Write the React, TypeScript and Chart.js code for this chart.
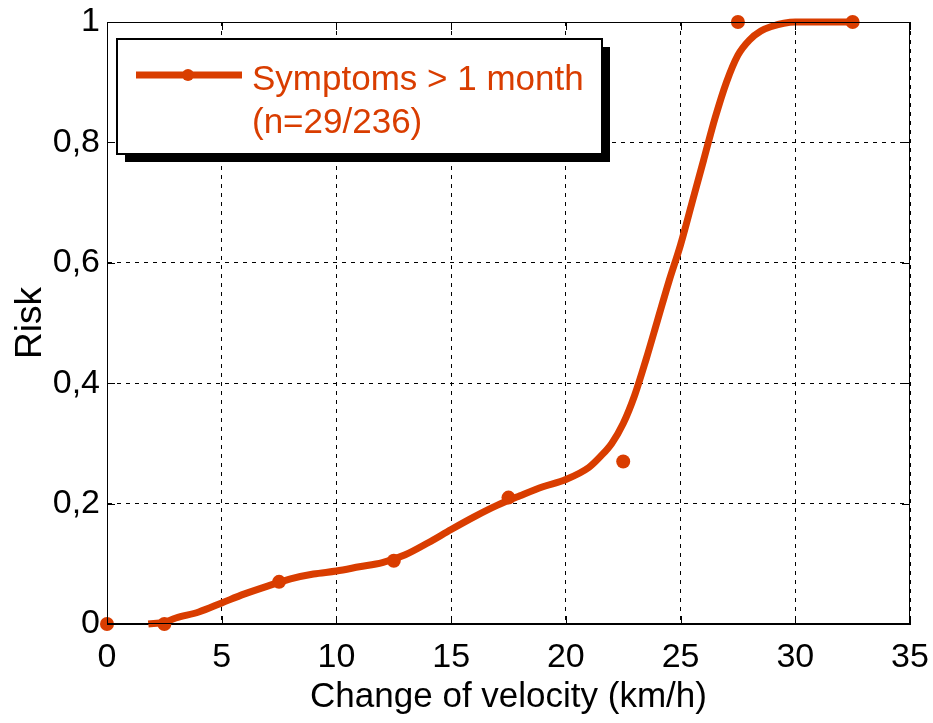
import React, { useEffect, useRef } from "react";
import { Chart, registerables } from "chart.js";

Chart.register(...registerables);

const curveX = [1.8, 2.5, 3, 4, 5, 6, 7, 8, 9, 10, 11, 12, 13, 14, 15, 16, 17, 18, 19, 20, 21, 21.5, 22, 22.5, 23, 23.5, 24, 24.5, 25, 25.5, 26, 26.5, 27, 27.5, 28, 28.5, 29, 29.5, 30, 31, 32.5];
const curveY = [0, 0.003, 0.01, 0.02, 0.035, 0.05, 0.063, 0.075, 0.083, 0.088, 0.095, 0.102, 0.115, 0.135, 0.157, 0.178, 0.197, 0.213, 0.228, 0.24, 0.26, 0.278, 0.3, 0.333, 0.38, 0.44, 0.505, 0.57, 0.63, 0.7, 0.77, 0.84, 0.9, 0.945, 0.97, 0.985, 0.993, 0.998, 1, 1, 1];
const obsX = [0, 2.5, 7.5, 12.5, 17.5, 22.5, 27.5, 32.5];
const obsY = [0, 0, 0.07, 0.105, 0.21, 0.27, 1, 1];
const xTickLabels = ["0", "5", "10", "15", "20", "25", "30", "35"];
const yTickLabels = ["0", "0,2", "0,4", "0,6", "0,8", "1"];
const legendLines = ["Symptoms > 1 month", "(n=29/236)"];

const RED = "rgb(217,61,0)";
const FONT = "'Liberation Sans', Arial, Helvetica, sans-serif";

const zeroPad = (s: any) => {
  s.paddingLeft = 0;
  s.paddingRight = 0;
  s.paddingTop = 0;
  s.paddingBottom = 0;
};

export default function App() {
  const ref = useRef<HTMLCanvasElement>(null);
  useEffect(() => {
    document.body.style.margin = "0";
    const ctx = ref.current!.getContext("2d")!;

    const boxPlugin = {
      id: "boxPlugin",
      afterDatasetsDraw(chart: any) {
        const { ctx, chartArea: a, scales } = chart;
        ctx.save();
        ctx.strokeStyle = "#000";
        ctx.lineWidth = 1;
        ctx.setLineDash([]);
        ctx.strokeRect(a.left + 0.5, a.top + 0.5, a.right - a.left - 1, a.bottom - a.top - 1);
        const tl = 8;
        ctx.beginPath();
        scales.x.ticks.forEach((t: any) => {
          const px = Math.round(scales.x.getPixelForValue(t.value)) + 0.5;
          ctx.moveTo(px, a.top); ctx.lineTo(px, a.top + tl);
          ctx.moveTo(px, a.bottom); ctx.lineTo(px, a.bottom - tl);
        });
        scales.y.ticks.forEach((t: any) => {
          const py = Math.round(scales.y.getPixelForValue(t.value)) + 0.5;
          ctx.moveTo(a.left, py); ctx.lineTo(a.left + tl, py);
          ctx.moveTo(a.right, py); ctx.lineTo(a.right - tl, py);
        });
        ctx.stroke();
        ctx.restore();
      },
      afterDraw(chart: any) {
        const { ctx, chartArea: a } = chart;
        const lx = a.left + 10, ly = a.top + 17, lw = 485, lh = 115;
        ctx.save();
        ctx.fillStyle = "#000";
        ctx.fillRect(lx + 8, ly + 8, lw, lh);
        ctx.fillStyle = "#fff";
        ctx.fillRect(lx, ly, lw, lh);
        ctx.strokeStyle = "#000";
        ctx.lineWidth = 2;
        ctx.strokeRect(lx, ly, lw, lh);
        ctx.strokeStyle = RED;
        ctx.lineWidth = 7;
        ctx.beginPath();
        ctx.moveTo(lx + 19, ly + 36);
        ctx.lineTo(lx + 125, ly + 36);
        ctx.stroke();
        ctx.fillStyle = RED;
        ctx.beginPath();
        ctx.arc(lx + 71, ly + 36, 6, 0, Math.PI * 2);
        ctx.fill();
        ctx.font = `35px ${FONT}`;
        ctx.textBaseline = "alphabetic";
        ctx.fillText(legendLines[0], lx + 135, ly + 51);
        ctx.fillText(legendLines[1], lx + 135, ly + 94);
        ctx.restore();
      },
    };

    const chart = new Chart(ctx, {
      type: "line",
      data: {
        datasets: [
          {
            label: legendLines.join(" "),
            data: curveX.map((x, i) => ({ x, y: curveY[i] })),
            borderColor: RED,
            borderWidth: 7,
            pointRadius: 0,
            cubicInterpolationMode: "monotone",
            fill: false,
            clip: false as any,
          },
          {
            label: "observed",
            data: obsX.map((x, i) => ({ x, y: obsY[i] })),
            showLine: false,
            pointRadius: 7,
            pointBackgroundColor: RED,
            pointBorderColor: RED,
            pointBorderWidth: 0,
            clip: false as any,
          },
        ],
      },
      options: {
        animation: false,
        responsive: false,
        maintainAspectRatio: false,
        layout: { padding: { top: 22, right: 23, left: 0, bottom: 0 } },
        plugins: { legend: { display: false }, tooltip: { enabled: false } },
        scales: {
          x: {
            type: "linear",
            min: 0,
            max: 35,
            ticks: {
              stepSize: 5,
              color: "#000",
              font: { size: 34, family: FONT },
              padding: 13,
              maxRotation: 0,
              callback: (v: any) => xTickLabels[Math.round(v / 5)] ?? "",
            },
            grid: { color: "#000", lineWidth: 1, drawTicks: false },
            border: { display: true, color: "#000", dash: [4, 5] },
            title: {
              display: true,
              text: "Change of velocity (km/h)",
              color: "#000",
              font: { size: 35, family: FONT },
              padding: { top: 0, bottom: 5 },
            },
            afterFit: (s: any) => { s.height = 99; zeroPad(s); },
          },
          y: {
            type: "linear",
            min: 0,
            max: 1,
            ticks: {
              stepSize: 0.2,
              color: "#000",
              font: { size: 34, family: FONT },
              padding: 7,
              callback: (v: any) => yTickLabels[Math.round(v / 0.2)] ?? "",
            },
            grid: { color: "#000", lineWidth: 1, drawTicks: false },
            border: { display: true, color: "#000", dash: [4, 5] },
            title: {
              display: true,
              text: "Risk",
              color: "#000",
              font: { size: 37, family: FONT },
              padding: { top: 9, bottom: 0 },
            },
            afterFit: (s: any) => { s.width = 107; zeroPad(s); },
          },
        },
      },
      plugins: [boxPlugin],
    });
    return () => chart.destroy();
  }, []);
  return (
    <div style={{ width: 933, height: 723, background: "#fff" }}>
      <canvas ref={ref} width={933} height={723} style={{ display: "block" }} />
    </div>
  );
}
